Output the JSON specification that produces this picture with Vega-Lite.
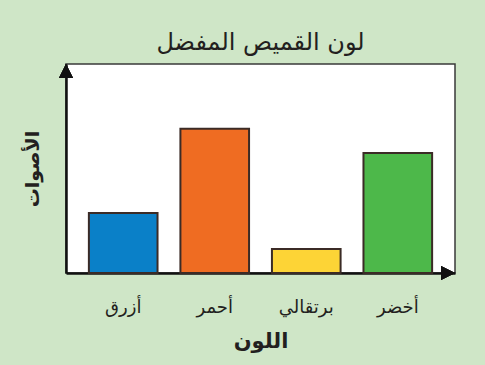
{
  "$schema": "https://vega.github.io/schema/vega-lite/v6.json",
  "autosize": {"type": "none"},
  "width": 389,
  "height": 209,
  "padding": {"left": 66, "top": 64, "right": 30, "bottom": 92},
  "background": "#cfe6c7",
  "title": {"text": "لون القميص المفضل", "fontSize": 24, "fontWeight": "normal", "font": "DejaVu Sans", "color": "#231f20", "offset": 9, "anchor": "middle"},
  "config": {
    "view": {"fill": "white", "stroke": "#3a3a3a", "strokeWidth": 1.5},
    "font": "DejaVu Sans"
  },
  "data": {"values": [
    {"color": "أزرق", "votes": 5},
    {"color": "أحمر", "votes": 12},
    {"color": "برتقالي", "votes": 2},
    {"color": "أخضر", "votes": 10}
  ]},
  "layer": [
    {
      "mark": {"type": "bar", "stroke": "#3b2b26", "strokeWidth": 2},
      "encoding": {
        "x": {"field": "color", "type": "nominal", "sort": null,
          "scale": {"paddingInner": 0.25, "paddingOuter": 0.25},
          "axis": {"title": "اللون", "titleFontSize": 21, "titleFontWeight": "bold", "titleColor": "#231f20", "titlePadding": 14,
            "labelAngle": 0, "labelFontSize": 18, "labelColor": "#231f20", "labelPadding": 25, "ticks": false,
            "domainColor": "#111", "domainWidth": 2.5}},
        "y": {"field": "votes", "type": "quantitative", "scale": {"domain": [0, 17.4], "nice": false},
          "axis": {"title": "الأصوات", "titleFontSize": 19, "titleFontWeight": "bold", "titleColor": "#231f20", "titlePadding": 24,
            "labels": false, "ticks": false, "grid": false, "domainColor": "#111", "domainWidth": 2.5}},
        "color": {"field": "color", "type": "nominal", "legend": null,
          "scale": {"domain": ["أزرق", "أحمر", "برتقالي", "أخضر"], "range": ["#0a80c8", "#ef6c22", "#fdd436", "#4db84a"]}}
      }
    },
    {
      "mark": {"type": "point", "filled": true, "color": "#111", "opacity": 1, "size": 196, "shape": "M 0 0 L -1 2 L 1 2 Z"},
      "encoding": {
        "x": {"datum": 0, "type": "quantitative", "scale": {"domain": [0, 1]}, "axis": null},
        "y": {"datum": 17.4, "type": "quantitative"}
      }
    },
    {
      "mark": {"type": "point", "filled": true, "color": "#111", "opacity": 1, "size": 196, "shape": "M 0 0 L -2 -1 L -2 1 Z"},
      "encoding": {
        "x": {"datum": 1, "type": "quantitative", "scale": {"domain": [0, 1]}, "axis": null},
        "y": {"datum": 0, "type": "quantitative"}
      }
    }
  ],
  "resolve": {"scale": {"x": "independent"}, "axis": {"x": "independent"}}
}
